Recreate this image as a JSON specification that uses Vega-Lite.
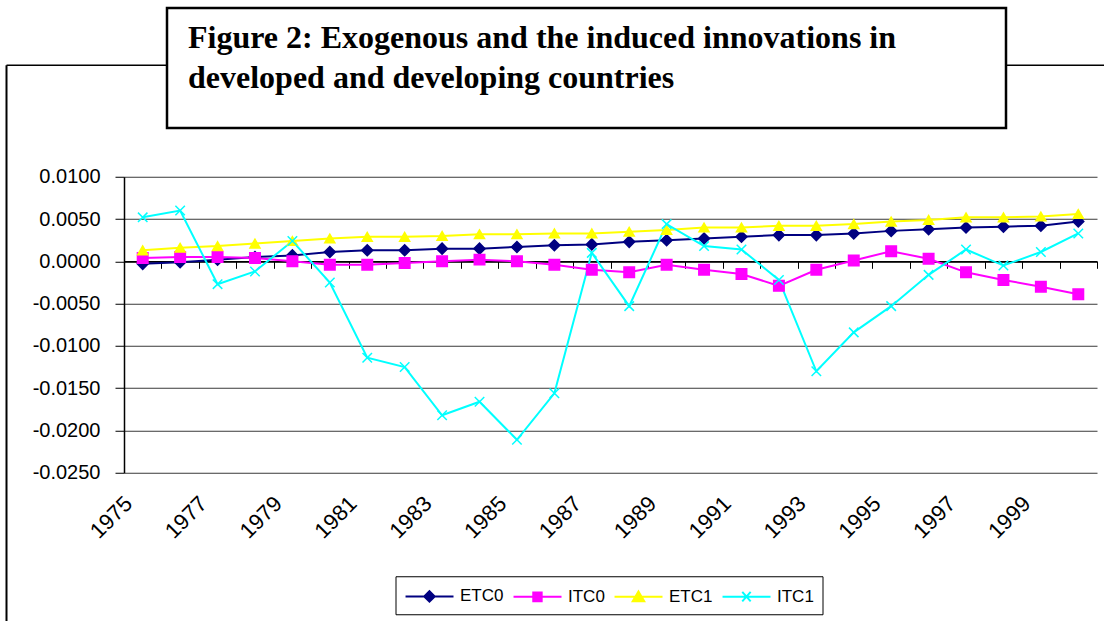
{
  "$schema": "https://vega.github.io/schema/vega-lite/v6.json",
  "background": "white",
  "padding": {"left": 6, "top": 6, "right": 0, "bottom": 0},
  "config": {"view": {"stroke": null}},
  "bounds": "flush",
  "spacing": 168.75,
  "vconcat": [
    {
      "bounds": "flush",
      "spacing": 0,
      "hconcat": [
        {
          "width": 160.5,
          "height": 120,
          "data": {"values": []},
          "mark": "point",
          "encoding": {
            "x": {"field": "fx", "type": "quantitative", "scale": {"domain": [0, 1], "range": [0, 1098]},
                  "axis": {"orient": "top", "offset": -56.75, "labels": false, "ticks": false, "grid": false, "title": null, "domainColor": "#000", "domainWidth": 1.5}},
            "y": {"field": "fy", "type": "quantitative", "scale": {"domain": [0, 1], "range": [56.75, 670.5]},
                  "axis": {"orient": "left", "labels": false, "ticks": false, "grid": false, "title": null, "domainColor": "#000", "domainWidth": 2}}
          }
        },
        {
          "width": 839,
          "height": 120,
          "view": {"fill": "white", "stroke": "black", "strokeWidth": 2.5},
          "data": {"values": [
            {"row": 1, "t": "Figure 2: Exogenous and the induced innovations in"},
            {"row": 2, "t": "developed and developing countries"}
          ]},
          "mark": {"type": "text", "align": "left", "baseline": "alphabetic", "dx": 21, "font": "Liberation Serif", "fontSize": 32, "fontWeight": "bold", "color": "#000"},
          "encoding": {
            "x": {"datum": 0, "type": "quantitative", "scale": {"domain": [0, 1]}, "axis": null},
            "y": {"field": "row", "type": "ordinal", "scale": {"type": "point", "padding": 1.04}, "axis": null},
            "text": {"field": "t"}
          }
        }
      ]
    },
    {
      "bounds": "flush",
      "spacing": 0,
      "resolve": {
        "scale": {"shape": "independent", "fill": "independent", "stroke": "independent", "color": "independent", "size": "independent"},
        "legend": {"shape": "independent", "fill": "independent", "stroke": "independent", "color": "independent", "size": "independent"}
      },
      "hconcat": [
        {
          "width": 117.5,
          "height": 1,
          "data": {"values": []},
          "mark": {"type": "point", "filled": true, "opacity": 1, "strokeWidth": 2},
          "encoding": {
            "fill": {
              "field": "series", "type": "nominal",
              "scale": {"domain": ["ETC0", "ITC0", "ETC1", "ITC1"], "range": ["#000080", "#FF00FF", "#FFFF00", "#00FFFF"]},
              "legend": {
                "orient": "none", "legendX": 389.5, "legendY": 399.5,
                "direction": "horizontal", "title": null,
                "strokeColor": "#000", "fillColor": "#fff", "padding": 8.5,
                "symbolSize": 441, "symbolStrokeWidth": 2, "symbolOpacity": 1,
                "labelFont": "Liberation Sans", "labelFontSize": 17, "labelColor": "#000",
                "labelOffset": 33, "columnPadding": 5, "gridAlign": "each"
              }
            },
            "stroke": {
              "field": "series", "type": "nominal",
              "scale": {"domain": ["ETC0", "ITC0", "ETC1", "ITC1"], "range": ["#000080", "#FF00FF", "#FFFF00", "#00FFFF"]},
              "legend": {
                "orient": "none", "legendX": 389.5, "legendY": 399.5,
                "direction": "horizontal", "title": null,
                "strokeColor": "#000", "fillColor": "#fff", "padding": 8.5,
                "symbolSize": 441, "symbolStrokeWidth": 2, "symbolOpacity": 1,
                "labelFont": "Liberation Sans", "labelFontSize": 17, "labelColor": "#000",
                "labelOffset": 33, "columnPadding": 5, "gridAlign": "each"
              }
            },
            "shape": {
              "field": "series", "type": "nominal",
              "scale": {
                "domain": ["ETC0", "ITC0", "ETC1", "ITC1"],
                "range": [
                  "M-0.95,0H3.62M1.33,-0.5L1.83,0L1.33,0.5L0.83,0Z",
                  "M-0.95,0H3.62M0.93,-0.42H1.73V0.42H0.93Z",
                  "M-0.95,0H3.62M1.33,-0.5L1.88,0.45L0.78,0.45Z",
                  "M-0.95,0H3.62M0.93,-0.45L1.73,0.45M0.93,0.45L1.73,-0.45"
                ]
              },
              "legend": {
                "orient": "none", "legendX": 389.5, "legendY": 399.5,
                "direction": "horizontal", "title": null,
                "strokeColor": "#000", "fillColor": "#fff", "padding": 8.5,
                "symbolSize": 441, "symbolStrokeWidth": 2, "symbolOpacity": 1,
                "labelFont": "Liberation Sans", "labelFontSize": 17, "labelColor": "#000",
                "labelOffset": 33, "columnPadding": 5, "gridAlign": "each"
              }
            }
          }
        },
        {
          "width": 973,
          "height": 296,
          "data": {"values": [
            {"year": 1975, "series": "ETC0", "value": -0.0003},
            {"year": 1976, "series": "ETC0", "value": -0.0001},
            {"year": 1977, "series": "ETC0", "value": 0.0002},
            {"year": 1978, "series": "ETC0", "value": 0.0005},
            {"year": 1979, "series": "ETC0", "value": 0.0007},
            {"year": 1980, "series": "ETC0", "value": 0.0011},
            {"year": 1981, "series": "ETC0", "value": 0.0013},
            {"year": 1982, "series": "ETC0", "value": 0.0013},
            {"year": 1983, "series": "ETC0", "value": 0.0015},
            {"year": 1984, "series": "ETC0", "value": 0.0015},
            {"year": 1985, "series": "ETC0", "value": 0.0017},
            {"year": 1986, "series": "ETC0", "value": 0.0019},
            {"year": 1987, "series": "ETC0", "value": 0.0020},
            {"year": 1988, "series": "ETC0", "value": 0.0023},
            {"year": 1989, "series": "ETC0", "value": 0.0025},
            {"year": 1990, "series": "ETC0", "value": 0.0027},
            {"year": 1991, "series": "ETC0", "value": 0.0029},
            {"year": 1992, "series": "ETC0", "value": 0.0031},
            {"year": 1993, "series": "ETC0", "value": 0.0031},
            {"year": 1994, "series": "ETC0", "value": 0.0033},
            {"year": 1995, "series": "ETC0", "value": 0.0036},
            {"year": 1996, "series": "ETC0", "value": 0.0038},
            {"year": 1997, "series": "ETC0", "value": 0.0040},
            {"year": 1998, "series": "ETC0", "value": 0.0041},
            {"year": 1999, "series": "ETC0", "value": 0.0042},
            {"year": 2000, "series": "ETC0", "value": 0.0047},
            {"year": 1975, "series": "ITC0", "value": 0.0004},
            {"year": 1976, "series": "ITC0", "value": 0.0005},
            {"year": 1977, "series": "ITC0", "value": 0.0005},
            {"year": 1978, "series": "ITC0", "value": 0.0004},
            {"year": 1979, "series": "ITC0", "value": 0.0000},
            {"year": 1980, "series": "ITC0", "value": -0.0004},
            {"year": 1981, "series": "ITC0", "value": -0.0004},
            {"year": 1982, "series": "ITC0", "value": -0.0002},
            {"year": 1983, "series": "ITC0", "value": 0.0000},
            {"year": 1984, "series": "ITC0", "value": 0.0002},
            {"year": 1985, "series": "ITC0", "value": 0.0000},
            {"year": 1986, "series": "ITC0", "value": -0.0004},
            {"year": 1987, "series": "ITC0", "value": -0.0010},
            {"year": 1988, "series": "ITC0", "value": -0.0013},
            {"year": 1989, "series": "ITC0", "value": -0.0004},
            {"year": 1990, "series": "ITC0", "value": -0.0010},
            {"year": 1991, "series": "ITC0", "value": -0.0015},
            {"year": 1992, "series": "ITC0", "value": -0.0029},
            {"year": 1993, "series": "ITC0", "value": -0.0010},
            {"year": 1994, "series": "ITC0", "value": 0.0001},
            {"year": 1995, "series": "ITC0", "value": 0.0012},
            {"year": 1996, "series": "ITC0", "value": 0.0003},
            {"year": 1997, "series": "ITC0", "value": -0.0013},
            {"year": 1998, "series": "ITC0", "value": -0.0022},
            {"year": 1999, "series": "ITC0", "value": -0.0030},
            {"year": 2000, "series": "ITC0", "value": -0.0039},
            {"year": 1975, "series": "ETC1", "value": 0.0013},
            {"year": 1976, "series": "ETC1", "value": 0.0016},
            {"year": 1977, "series": "ETC1", "value": 0.0018},
            {"year": 1978, "series": "ETC1", "value": 0.0021},
            {"year": 1979, "series": "ETC1", "value": 0.0024},
            {"year": 1980, "series": "ETC1", "value": 0.0027},
            {"year": 1981, "series": "ETC1", "value": 0.0029},
            {"year": 1982, "series": "ETC1", "value": 0.0029},
            {"year": 1983, "series": "ETC1", "value": 0.0030},
            {"year": 1984, "series": "ETC1", "value": 0.0032},
            {"year": 1985, "series": "ETC1", "value": 0.0032},
            {"year": 1986, "series": "ETC1", "value": 0.0033},
            {"year": 1987, "series": "ETC1", "value": 0.0033},
            {"year": 1988, "series": "ETC1", "value": 0.0035},
            {"year": 1989, "series": "ETC1", "value": 0.0037},
            {"year": 1990, "series": "ETC1", "value": 0.0040},
            {"year": 1991, "series": "ETC1", "value": 0.0040},
            {"year": 1992, "series": "ETC1", "value": 0.0042},
            {"year": 1993, "series": "ETC1", "value": 0.0042},
            {"year": 1994, "series": "ETC1", "value": 0.0044},
            {"year": 1995, "series": "ETC1", "value": 0.0047},
            {"year": 1996, "series": "ETC1", "value": 0.0049},
            {"year": 1997, "series": "ETC1", "value": 0.0052},
            {"year": 1998, "series": "ETC1", "value": 0.0052},
            {"year": 1999, "series": "ETC1", "value": 0.0053},
            {"year": 2000, "series": "ETC1", "value": 0.0056},
            {"year": 1975, "series": "ITC1", "value": 0.0052},
            {"year": 1976, "series": "ITC1", "value": 0.0060},
            {"year": 1977, "series": "ITC1", "value": -0.0027},
            {"year": 1978, "series": "ITC1", "value": -0.0012},
            {"year": 1979, "series": "ITC1", "value": 0.0024},
            {"year": 1980, "series": "ITC1", "value": -0.0025},
            {"year": 1981, "series": "ITC1", "value": -0.0114},
            {"year": 1982, "series": "ITC1", "value": -0.0125},
            {"year": 1983, "series": "ITC1", "value": -0.0182},
            {"year": 1984, "series": "ITC1", "value": -0.0166},
            {"year": 1985, "series": "ITC1", "value": -0.0211},
            {"year": 1986, "series": "ITC1", "value": -0.0156},
            {"year": 1987, "series": "ITC1", "value": 0.0010},
            {"year": 1988, "series": "ITC1", "value": -0.0053},
            {"year": 1989, "series": "ITC1", "value": 0.0044},
            {"year": 1990, "series": "ITC1", "value": 0.0018},
            {"year": 1991, "series": "ITC1", "value": 0.0014},
            {"year": 1992, "series": "ITC1", "value": -0.0022},
            {"year": 1993, "series": "ITC1", "value": -0.0130},
            {"year": 1994, "series": "ITC1", "value": -0.0084},
            {"year": 1995, "series": "ITC1", "value": -0.0053},
            {"year": 1996, "series": "ITC1", "value": -0.0016},
            {"year": 1997, "series": "ITC1", "value": 0.0014},
            {"year": 1998, "series": "ITC1", "value": -0.0005},
            {"year": 1999, "series": "ITC1", "value": 0.0011},
            {"year": 2000, "series": "ITC1", "value": 0.0033}
          ]},
          "encoding": {
            "y": {
              "field": "value", "type": "quantitative",
              "scale": {"domain": [-0.025, 0.01], "nice": false, "zero": false},
              "axis": {
                "orient": "left",
                "values": [-0.025, -0.02, -0.015, -0.01, -0.005, 0, 0.005, 0.01],
                "labelExpr": "(datum.value < 0 ? '-' : '') + format(abs(datum.value), '.4f')",
                "domain": true, "domainColor": "#000", "domainWidth": 1.5,
                "ticks": true, "tickSize": 9, "tickColor": "#000", "tickWidth": 1,
                "grid": true, "gridColor": "#3a3a3a", "gridWidth": 1,
                "labelFont": "Liberation Sans", "labelFontSize": 20, "labelColor": "#000",
                "labelPadding": 15, "title": null
              }
            }
          },
          "layer": [
            {
              "mark": {"type": "line", "strokeWidth": 2},
              "encoding": {
                "x": {
                  "field": "year", "type": "ordinal", "bandPosition": 0.5,
                  "scale": {"type": "band", "paddingInner": 0, "paddingOuter": 0},
                  "axis": {
                    "orient": "bottom", "offset": -211.43, "labels": false,
                    "ticks": true, "tickBand": "extent", "tickSize": 7, "tickColor": "#000", "tickWidth": 1,
                    "domain": true, "domainColor": "#000", "domainWidth": 1.5,
                    "grid": false, "title": null
                  }
                },
                "color": {
                  "field": "series", "type": "nominal",
                  "scale": {"domain": ["ETC0", "ITC0", "ETC1", "ITC1"], "range": ["#000080", "#FF00FF", "#FFFF00", "#00FFFF"]},
                  "legend": null
                },
                "detail": {"field": "series"}
              }
            },
            {
              "mark": {"type": "point", "filled": true, "opacity": 1, "strokeWidth": 1.5},
              "encoding": {
                "x": {
                  "field": "year", "type": "ordinal", "bandPosition": 0.5,
                  "scale": {"type": "band", "paddingInner": 0, "paddingOuter": 0},
                  "axis": {
                    "orient": "bottom", "domain": false, "ticks": false, "tickSize": 0, "grid": false, "title": null,
                    "labelAngle": -45, "labelAlign": "right", "labelBaseline": "middle",
                    "labelPadding": 27, "labelOffset": -14,
                    "labelFont": "Liberation Sans", "labelFontSize": 22, "labelColor": "#000",
                    "labelOverlap": false, "labelBound": false,
                    "labelExpr": "datum.value % 2 === 1 ? datum.label : ''"
                  }
                },
                "color": {
                  "field": "series", "type": "nominal",
                  "scale": {"domain": ["ETC0", "ITC0", "ETC1", "ITC1"], "range": ["#000080", "#FF00FF", "#FFFF00", "#00FFFF"]},
                  "legend": null
                },
                "stroke": {
                  "field": "series", "type": "nominal",
                  "scale": {"domain": ["ETC0", "ITC0", "ETC1", "ITC1"], "range": ["#000080", "#FF00FF", "#FFFF00", "#00FFFF"]},
                  "legend": null
                },
                "shape": {
                  "field": "series", "type": "nominal",
                  "scale": {"domain": ["ETC0", "ITC0", "ETC1", "ITC1"], "range": ["diamond", "square", "triangle-up", "M-1,-1L1,1M-1,1L1,-1"]},
                  "legend": null
                },
                "size": {
                  "field": "series", "type": "nominal",
                  "scale": {"domain": ["ETC0", "ITC0", "ETC1", "ITC1"], "range": [120, 90, 160, 150]},
                  "legend": null
                }
              }
            }
          ],
          "resolve": {"axis": {"x": "independent"}}
        }
      ]
    }
  ]
}
